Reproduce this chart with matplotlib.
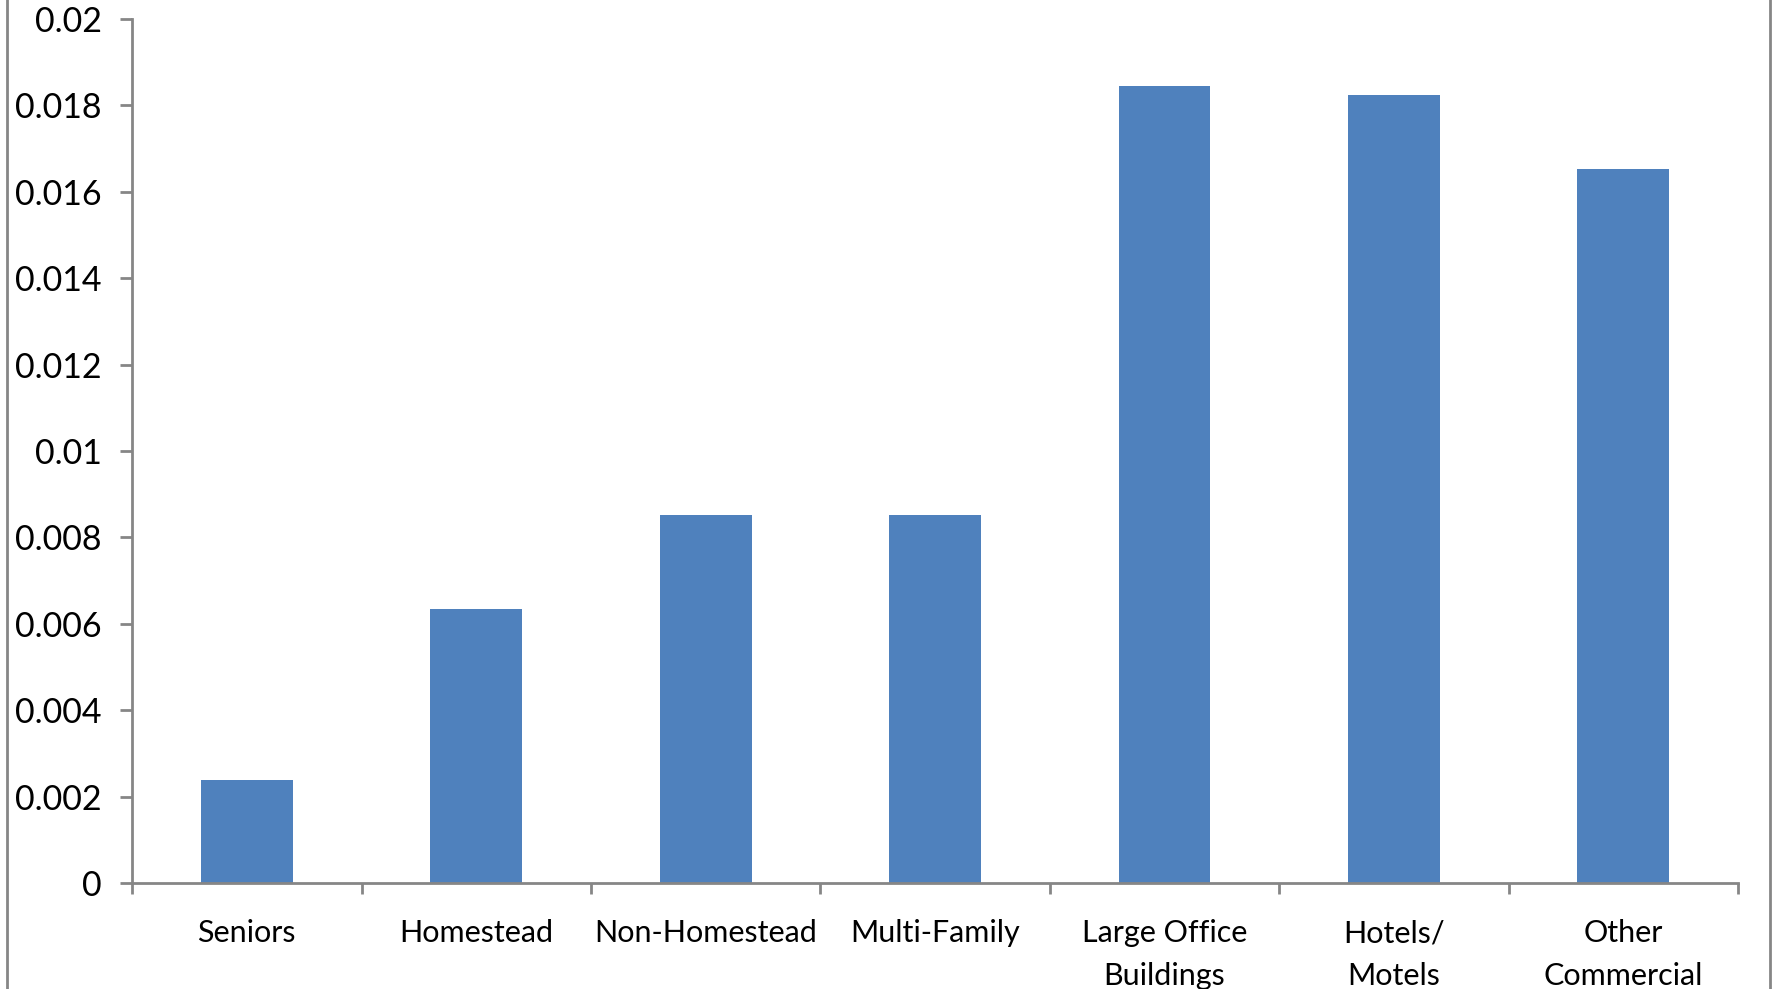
import matplotlib.pyplot as plt
from matplotlib.lines import Line2D
import numpy as np

categorias = ['Seniors', 'Homestead', 'Non-Homestead', 'Multi-Family',
              'Large Office\nBuildings', 'Hotels/\nMotels', 'Other\nCommercial']
valores = [0.00238, 0.00634, 0.00851, 0.00851, 0.01846, 0.01825, 0.01652]
yticks = [0, 0.002, 0.004, 0.006, 0.008, 0.01, 0.012, 0.014, 0.016, 0.018, 0.02]
ytick_labels = ['0', '0.002', '0.004', '0.006', '0.008', '0.01', '0.012',
                '0.014', '0.016', '0.018', '0.02']

plt.rcParams['font.family'] = ['Lato', 'DejaVu Sans']
gris = '#868686'

fig = plt.figure(figsize=(17.73, 9.89), dpi=100)
ax = fig.add_axes([0.0745, 0.1072, 0.9058, 0.8736])

x = np.arange(len(categorias))
ax.bar(x, valores, width=0.40, color='#4F81BD')

ax.set_xlim(-0.5, len(categorias) - 0.5)
ax.set_ylim(0, 0.02)
ax.set_yticks(yticks)
ax.set_yticklabels(ytick_labels, fontsize=24.5)

ax.set_xticks(x)
ax.set_xticklabels(categorias, fontsize=22, linespacing=1.65)
ax.set_xticks(np.arange(len(categorias) + 1) - 0.5, minor=True)
ax.tick_params(axis='x', which='major', length=0, pad=26)
ax.tick_params(axis='x', which='minor', length=8, width=2, color=gris, direction='out')
ax.tick_params(axis='y', length=9, width=2, color=gris, pad=13)

for lado in ['top', 'right']:
    ax.spines[lado].set_visible(False)
for lado in ['left', 'bottom']:
    ax.spines[lado].set_color(gris)
    ax.spines[lado].set_linewidth(2)

# borde del area del grafico (recortado)
fig.add_artist(Line2D([0.004, 0.004], [0, 1], color=gris, lw=2))
fig.add_artist(Line2D([0.9985, 0.9985], [0, 1], color=gris, lw=2))

fig.savefig('out.png', dpi=100)
